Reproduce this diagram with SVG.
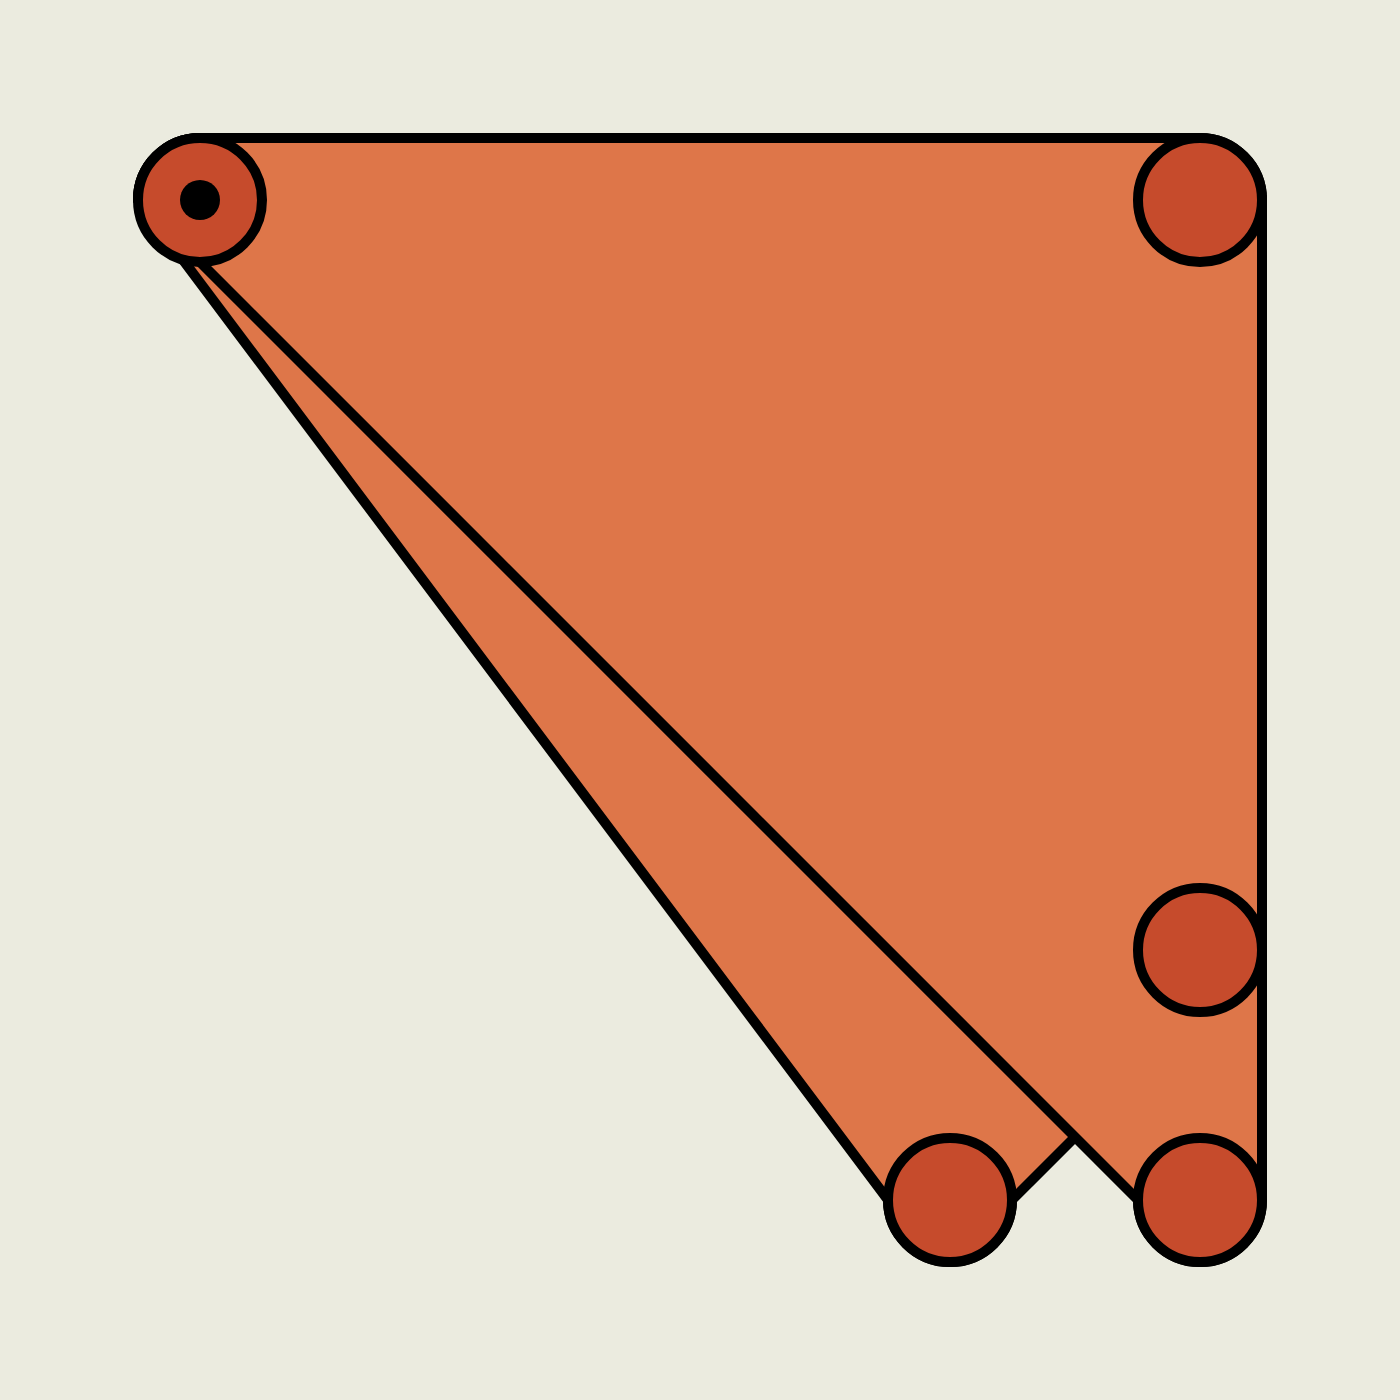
<svg xmlns="http://www.w3.org/2000/svg" width="1400" height="1400" viewBox="0 0 1400 1400">
  <style>
    .shape { fill: #DE7649; stroke: #000; stroke-width: 10; stroke-linejoin: miter; }
    .node { fill: #C64B2C; stroke: #000; stroke-width: 10; }
  </style>
  <rect x="0" y="0" width="1400" height="1400" fill="#EBEBDF"/>
  <g id="shapes">
    <path id="wedge-small" class="shape" d="M138,200 L888,1200 A62,62 0 0 0 1012,1200 L1262,950 L1262,200 L200,138 A62,62 0 0 0 138,200 Z"/>
    <path id="wedge-large" class="shape" d="M138,200 A62,62 0 0 1 200,138 L1200,138 A62,62 0 0 1 1262,200 L1262,1200 A62,62 0 0 1 1138,1200 Z"/>
  </g>
  <g id="n1"><circle class="node" cx="200" cy="200" r="62"/><circle cx="200" cy="200" r="20" fill="#000"/></g>
  <g id="n2"><circle class="node" cx="1200" cy="200" r="62"/></g>
  <g id="n3"><circle class="node" cx="1200" cy="950" r="62"/></g>
  <g id="n4"><circle class="node" cx="1200" cy="1200" r="62"/></g>
  <g id="n5"><circle class="node" cx="950" cy="1200" r="62"/></g>
</svg>
